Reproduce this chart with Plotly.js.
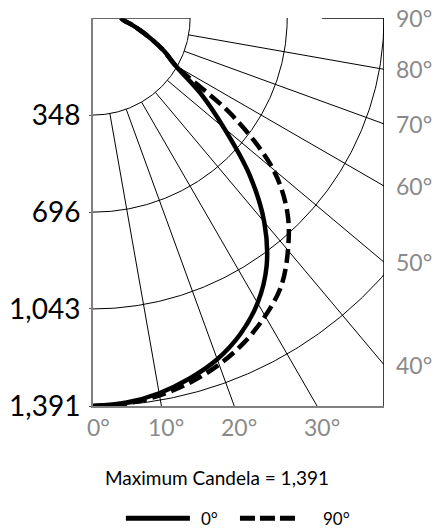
<!DOCTYPE html>
<html>
<head>
<meta charset="utf-8">
<script src="https://cdn.plot.ly/plotly-3.0.1.min.js"></script>
<style>html,body{margin:0;padding:0;background:#fff;}#chart{width:433px;height:529px;}</style>
</head>
<body>
<div id="chart"></div>
<script>
// ---- data (candela vs. vertical angle) ----
const angles = [0, 5, 10, 15, 20, 25, 30, 35, 40, 45, 50, 55, 60, 65, 70, 75, 80, 85, 90];
const cd0   = [1391, 1384, 1366, 1338, 1302, 1250, 1180, 1085, 955, 792, 612, 470, 342, 282, 224, 178, 142, 112, 100];
const cd90  = [1391, 1387, 1374, 1352, 1322, 1283, 1234, 1175, 1087, 985, 842, 610, 342, 282, 224, 178, 142, 112, 100];
const radialTicks  = [348, 696, 1043, 1391];
const radialLabels = ['348', '696', '1,043', '1,391'];
const angleTicks   = [0, 10, 20, 30, 40, 50, 60, 70, 80, 90];
const angleLabels  = ['0°', '10°', '20°', '30°', '40°', '50°', '60°', '70°', '80°', '90°'];
const rayAngles    = [10, 20, 30, 40, 50, 60, 70, 80];
const seriesNames  = ['0°', '90°'];
const maxCandela   = '1,391';

// ---- geometry helpers ----
const RMAX = 1391, XMAX = 1043;
const rad = d => d * Math.PI / 180;
const px = (r, a) => r * Math.sin(rad(a));
const py = (r, a) => -r * Math.cos(rad(a));

const traces = [];
const gridLine = {color: '#000', width: 1};

// circles
radialTicks.forEach(r => {
  const xs = [], ys = [];
  for (let a = 0; a <= 90; a += 0.5) { xs.push(px(r, a)); ys.push(py(r, a)); }
  traces.push({x: xs, y: ys, mode: 'lines', line: gridLine, hoverinfo: 'skip', showlegend: false});
});
// rays from inner circle to plot edge
rayAngles.forEach(a => {
  const t = Math.min(XMAX / Math.sin(rad(a)), RMAX / Math.cos(rad(a)));
  traces.push({x: [px(radialTicks[0], a), px(t, a)], y: [py(radialTicks[0], a), py(t, a)],
    mode: 'lines', line: gridLine, hoverinfo: 'skip', showlegend: false});
});
// curves
traces.push({name: seriesNames[1], x: cd90.map((r, i) => px(r, angles[i])), y: cd90.map((r, i) => py(r, angles[i])),
  mode: 'lines', line: {color: '#000', width: 4.5, dash: '14px,6px', shape: 'spline'}, cliponaxis: false, showlegend: false});
traces.push({name: seriesNames[0], x: cd0.map((r, i) => px(r, angles[i])), y: cd0.map((r, i) => py(r, angles[i])),
  mode: 'lines', line: {color: '#000', width: 4.5, shape: 'spline'}, cliponaxis: false, showlegend: false});

const grey = '#8a8a8a';
const annotations = [];
angleTicks.forEach((a, i) => {
  const bx = RMAX * Math.tan(rad(a));
  if (bx <= XMAX + 1e-6) {
    annotations.push({x: bx, y: -RMAX, xref: 'x', yref: 'y', text: angleLabels[i], showarrow: false,
      xanchor: 'center', yanchor: 'top', xshift: 5, yshift: -5, font: {family: 'Lato', size: 23, color: grey}});
  } else {
    const ry = a === 90 ? 0 : -XMAX / Math.tan(rad(a));
    annotations.push({x: XMAX, y: ry, xref: 'x', yref: 'y', text: angleLabels[i], showarrow: false,
      xanchor: 'left', yanchor: 'middle', xshift: 10, yshift: 0, font: {family: 'Lato', size: 23, color: grey}});
  }
});
annotations.push({x: 0.426, y: -0.183, xref: 'paper', yref: 'paper', text: 'Maximum Candela = ' + maxCandela,
  showarrow: false, xanchor: 'center', yanchor: 'middle', font: {family: 'Lato', size: 19, color: '#000'}});
annotations.push({x: 0.365, y: -0.289, xref: 'paper', yref: 'paper', text: seriesNames[0],
  showarrow: false, xanchor: 'left', yanchor: 'middle', font: {family: 'Lato', size: 17, color: '#000'}});
annotations.push({x: 0.784, y: -0.289, xref: 'paper', yref: 'paper', text: seriesNames[1],
  showarrow: false, xanchor: 'left', yanchor: 'middle', font: {family: 'Lato', size: 17, color: '#000'}});

const shapes = [
  // top border (partial) and right border
  {type: 'line', xref: 'x', yref: 'y', x0: 0, x1: radialTicks[0], y0: 0, y1: 0, line: {color: '#333', width: 1.5}},
  {type: 'line', xref: 'x', yref: 'y', x0: 821, x1: XMAX, y0: 0, y1: 0, line: {color: '#000', width: 1.5}},
  {type: 'line', xref: 'x', yref: 'y', x0: XMAX, x1: XMAX, y0: 0, y1: -RMAX, line: {color: '#000', width: 1.5}},
  // legend samples
  {type: 'line', xref: 'paper', yref: 'paper', x0: 0.113, x1: 0.333, y0: -0.289, y1: -0.289, line: {color: '#000', width: 5}},
  {type: 'line', xref: 'paper', yref: 'paper', x0: 0.505, x1: 0.704, y0: -0.289, y1: -0.289, line: {color: '#000', width: 5, dash: '15px,5px'}}
];

const layout = {
  width: 433, height: 529, autosize: false,
  margin: {l: 93, r: 49, t: 18, b: 123, pad: 0},
  paper_bgcolor: '#fff', plot_bgcolor: '#fff',
  showlegend: false,
  xaxis: {range: [0, XMAX], showgrid: false, zeroline: false, showticklabels: false, ticks: '',
    showline: true, linecolor: '#808080', linewidth: 2, fixedrange: true},
  yaxis: {range: [-RMAX, 0], showgrid: false, zeroline: false,
    tickvals: radialTicks.map(r => -r), ticktext: radialLabels,
    tickfont: {family: 'Lato', size: 28, color: '#000'}, ticks: 'outside', ticklen: 2, tickcolor: '#555',
    ticklabelstandoff: 3,
    showline: true, linecolor: '#808080', linewidth: 2, fixedrange: true},
  annotations: annotations, shapes: shapes
};

Plotly.newPlot('chart', traces, layout, {displayModeBar: false, staticPlot: true});
</script>
</body>
</html>
